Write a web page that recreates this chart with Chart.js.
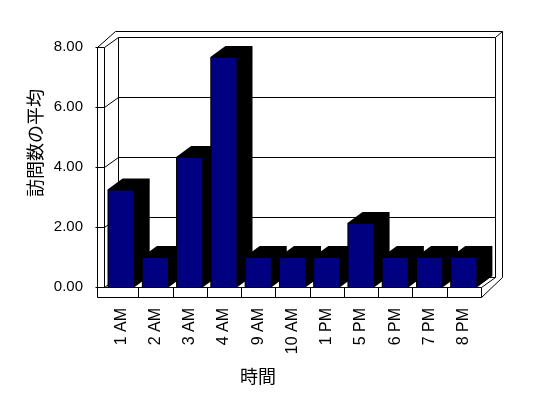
<!DOCTYPE html>
<html>
<head>
<meta charset="utf-8">
<script src="https://cdn.jsdelivr.net/npm/chart.js@4.4.1/dist/chart.umd.min.js"></script>
<style>
  html, body { margin: 0; padding: 0; background: #ffffff; }
  canvas { display: block; }
</style>
</head>
<body>
<canvas id="chart" width="548" height="398"></canvas>
<script>
const hours = ['1 AM', '2 AM', '3 AM', '4 AM', '9 AM', '10 AM', '1 PM', '5 PM', '6 PM', '7 PM', '8 PM'];
const avgVisits = [3.25, 1, 4.33, 7.67, 1, 1, 1, 2.13, 1, 1, 1];
const yTicks = [0, 2, 4, 6, 8];
const xTitle = '時間';
const yTitle = '訪問数の平均';

const barColor = '#000080';
const yTickFont = { family: 'Liberation Sans', size: 15 };
const xTickFont = { family: 'Liberation Sans', size: 16 };
const titleFont = '18px "Noto Sans CJK JP"';

// pixel snapping for 1px lines
function px(v) { return Math.round(v) + 0.5; }

function line(ctx, pts) {
    ctx.beginPath();
    ctx.moveTo(px(pts[0][0]), px(pts[0][1]));
    for (let i = 1; i < pts.length; i++) {
        ctx.lineTo(px(pts[i][0]), px(pts[i][1]));
    }
    ctx.stroke();
}

const box3d = {
    id: 'box3d',
    beforeDatasetsDraw(chart) {
        const ctx = chart.ctx;
        const { left: L, right: R, top: T, bottom: B } = chart.chartArea;
        const ys = chart.scales.y;
        const dx = 14, dy = -10;
        const ox = L - 7;       // outer face of left wall
        const fb = B + 10;      // bottom of floor slab
        const rx = R + dx + 7;  // outer right of back wall

        ctx.save();
        ctx.strokeStyle = '#000000';
        ctx.lineWidth = 1;

        // back wall
        line(ctx, [[L + dx, B + dy], [L + dx, T + dy], [R + dx, T + dy], [R + dx, B + dy], [L + dx, B + dy]]);
        [2, 4, 6].forEach(v => {
            const y = ys.getPixelForValue(v);
            line(ctx, [[L + dx, y + dy], [R + dx, y + dy]]);
        });

        // left wall
        line(ctx, [[L, T], [L, B]]);
        line(ctx, [[ox, T], [ox, fb]]);
        yTicks.forEach(v => {
            const y = ys.getPixelForValue(v);
            line(ctx, [[ox - 2, y], [L, y], [L + dx, y + dy]]);
        });

        // outer rim of walls
        line(ctx, [[ox, T], [ox + 18, T + dy - 6], [rx, T + dy - 6], [rx, B + dy]]);
        line(ctx, [[R + dx, T + dy], [rx, T + dy - 6]]);

        // floor
        line(ctx, [[L, B], [R, B], [R + dx, B + dy]]);
        line(ctx, [[ox, fb], [R, fb], [R, B]]);
        line(ctx, [[R, fb], [rx, B + dy]]);
        const n = hours.length;
        for (let i = 1; i < n; i++) {
            const x = L + i * (R - L) / n;
            line(ctx, [[x, B], [x, fb]]);
        }

        // bar extrusions
        const bx = 15, by = -11;
        ctx.fillStyle = '#000000';
        chart.getDatasetMeta(0).data.forEach(el => {
            const x0 = el.x - el.width / 2;
            const x1 = el.x + el.width / 2;
            const top = el.y, base = el.base;
            ctx.beginPath();
            ctx.moveTo(x0, base);
            ctx.lineTo(x0, top);
            ctx.lineTo(x0 + bx, top + by);
            ctx.lineTo(x1 + bx, top + by);
            ctx.lineTo(x1 + bx, base + by);
            ctx.lineTo(x1, base);
            ctx.closePath();
            ctx.fill();
        });

        ctx.restore();
    },
    afterDraw(chart) {
        const ctx = chart.ctx;
        ctx.save();
        ctx.fillStyle = '#000000';
        ctx.font = titleFont;
        ctx.textAlign = 'center';
        ctx.textBaseline = 'middle';
        ctx.fillText(xTitle, 258, 376);
        ctx.translate(35, 143);
        ctx.rotate(-Math.PI / 2);
        ctx.fillText(yTitle, 0, 0);
        ctx.restore();
    }
};

new Chart(document.getElementById('chart'), {
    type: 'bar',
    data: {
        labels: hours,
        datasets: [{
            data: avgVisits,
            backgroundColor: barColor,
            borderColor: '#000000',
            borderWidth: 1,
            barPercentage: 0.79,
            categoryPercentage: 1
        }]
    },
    options: {
        responsive: false,
        animation: false,
        events: [],
        layout: {
            padding: { top: 47, right: 67, left: 0, bottom: 0 }
        },
        plugins: {
            legend: { display: false },
            tooltip: { enabled: false }
        },
        scales: {
            x: {
                grid: { display: false, drawTicks: false },
                border: { display: false },
                ticks: {
                    color: '#000000',
                    font: xTickFont,
                    minRotation: 90,
                    maxRotation: 90,
                    autoSkip: false,
                    padding: 21
                },
                afterFit: s => { s.height = 111; }
            },
            y: {
                min: 0,
                max: 8,
                grid: { display: false, drawTicks: false },
                border: { display: false },
                ticks: {
                    color: '#000000',
                    font: yTickFont,
                    stepSize: 2,
                    padding: 21,
                    callback: v => v.toFixed(2)
                },
                afterFit: s => { s.width = 104; }
            }
        }
    },
    plugins: [box3d]
});
</script>
</body>
</html>
